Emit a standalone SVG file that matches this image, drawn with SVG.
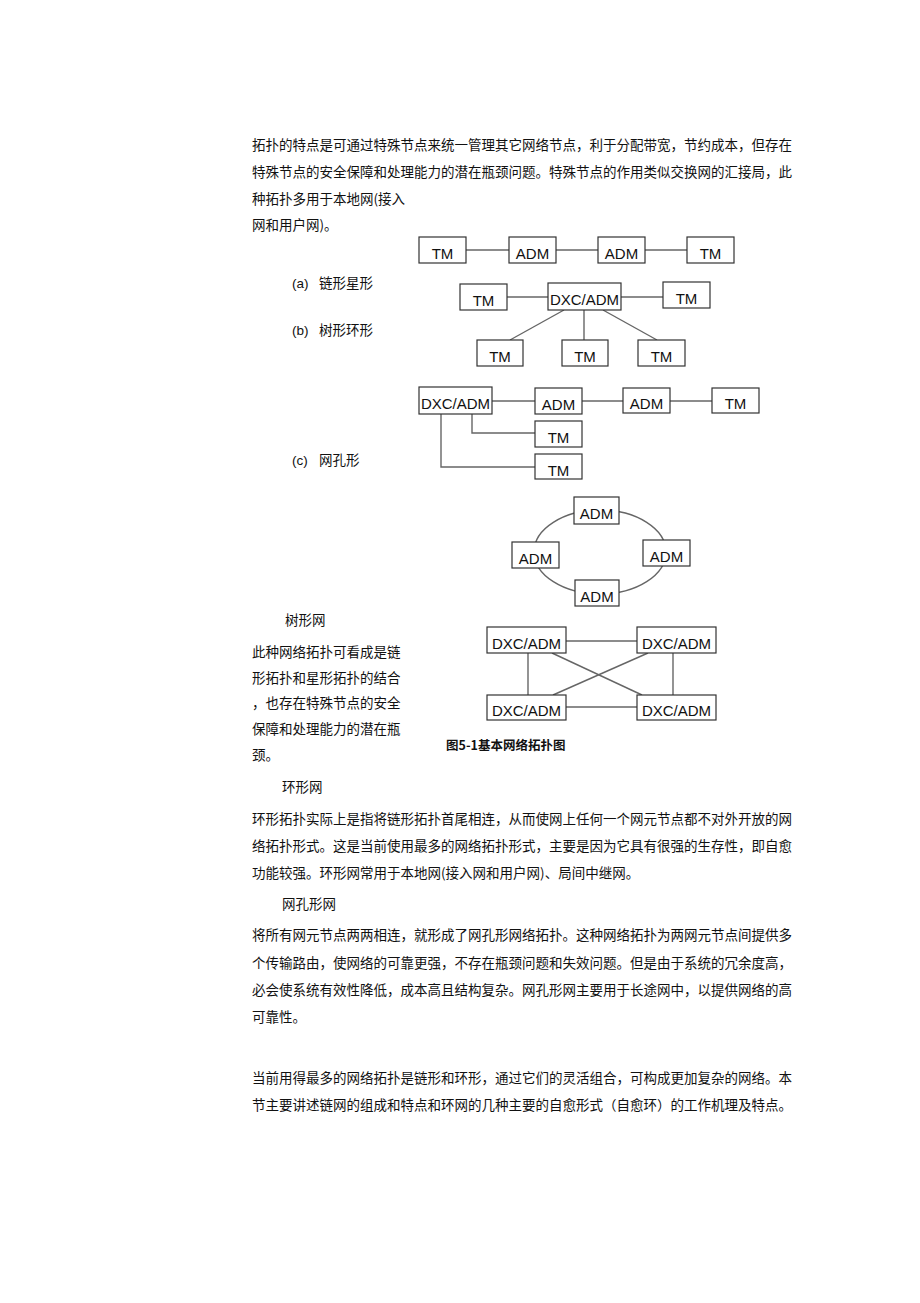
<svg xmlns="http://www.w3.org/2000/svg" width="920" height="1303" viewBox="0 0 920 1303">
<style>
.t{font-family:"Noto Sans CJK SC","Liberation Sans",sans-serif;font-size:13.5px;fill:#111}
.lab{font-family:"Liberation Sans","Noto Sans CJK SC",sans-serif;font-size:13.5px;fill:#111}
.cap{font-family:"Noto Sans CJK SC","Liberation Sans",sans-serif;font-size:12.5px;font-weight:bold;fill:#111}
.box rect{fill:#fff;stroke:#333;stroke-width:1.2}
.box text{font-family:"Liberation Sans",Arial,sans-serif;font-size:15px;fill:#111;text-anchor:middle}
.conn line,.conn polyline,.conn ellipse{stroke:#666;stroke-width:1.4;fill:none}
</style>
<rect width="920" height="1303" fill="#fff"/>

<g id="text-top">
<text class="t" x="252" y="150">拓扑的特点是可通过特殊节点来统一管理其它网络节点，利于分配带宽，节约成本，但存在</text>
<text class="t" x="252" y="177">特殊节点的安全保障和处理能力的潜在瓶颈问题。特殊节点的作用类似交换网的汇接局，此</text>
<text class="t" x="252" y="204">种拓扑多用于本地网(接入</text>
<text class="t" x="252" y="230">网和用户网)。</text>
</g>

<g id="labels">
<text class="lab" x="292" y="288">(a)</text><text class="t" x="319" y="288">链形星形</text>
<text class="lab" x="292" y="335">(b)</text><text class="t" x="319" y="335">树形环形</text>
<text class="lab" x="292" y="465">(c)</text><text class="t" x="319" y="465">网孔形</text>
</g>

<g id="connectors" class="conn">
<line x1="466" y1="250" x2="509" y2="250"/>
<line x1="556" y1="250" x2="598" y2="250"/>
<line x1="645" y1="250" x2="687" y2="250"/>
<line x1="507" y1="297" x2="548" y2="297"/>
<line x1="621" y1="297" x2="663" y2="297"/>
<line x1="564" y1="310" x2="510" y2="340"/>
<line x1="584" y1="310" x2="584" y2="340"/>
<line x1="603" y1="310" x2="657" y2="340"/>
<line x1="492" y1="401" x2="535" y2="401"/>
<line x1="582" y1="401" x2="623" y2="401"/>
<line x1="670" y1="401" x2="712" y2="401"/>
<polyline points="472,414 472,433 535,433"/>
<polyline points="441,414 441,467 535,467"/>
<ellipse cx="600" cy="552" rx="66" ry="42"/>
<line x1="566" y1="641" x2="637" y2="641"/>
<line x1="566" y1="707" x2="637" y2="707"/>
<line x1="528" y1="653" x2="528" y2="695"/>
<line x1="673" y1="653" x2="673" y2="695"/>
<line x1="552" y1="653" x2="642" y2="695"/>
<line x1="553" y1="695" x2="648" y2="653"/>
</g>

<g id="chain-tm1" class="box"><rect x="419" y="237" width="47" height="26"/><text x="442.5" y="258.5">TM</text></g>
<g id="chain-adm1" class="box"><rect x="509" y="237" width="47" height="26"/><text x="532.5" y="258.5">ADM</text></g>
<g id="chain-adm2" class="box"><rect x="598" y="237" width="47" height="26"/><text x="621.5" y="258.5">ADM</text></g>
<g id="chain-tm2" class="box"><rect x="687" y="237" width="47" height="26"/><text x="710.5" y="258.5">TM</text></g>

<g id="star-tm-left" class="box"><rect x="460" y="284" width="47" height="26"/><text x="483.5" y="305.5">TM</text></g>
<g id="star-dxc" class="box"><rect x="548" y="283" width="73" height="27"/><text x="584.5" y="305">DXC/ADM</text></g>
<g id="star-tm-right" class="box"><rect x="663" y="282" width="47" height="26"/><text x="686.5" y="303.5">TM</text></g>
<g id="star-tm-b1" class="box"><rect x="477" y="340" width="46" height="26"/><text x="500" y="361.5">TM</text></g>
<g id="star-tm-b2" class="box"><rect x="562" y="340" width="46" height="26"/><text x="585" y="361.5">TM</text></g>
<g id="star-tm-b3" class="box"><rect x="638" y="340" width="47" height="26"/><text x="661.5" y="361.5">TM</text></g>

<g id="tree-dxc" class="box"><rect x="419" y="387" width="73" height="27"/><text x="455.5" y="409">DXC/ADM</text></g>
<g id="tree-adm1" class="box"><rect x="535" y="388" width="47" height="26"/><text x="558.5" y="409.5">ADM</text></g>
<g id="tree-adm2" class="box"><rect x="623" y="388" width="47" height="25"/><text x="646.5" y="409">ADM</text></g>
<g id="tree-tm1" class="box"><rect x="712" y="388" width="47" height="25"/><text x="735.5" y="409">TM</text></g>
<g id="tree-tm2" class="box"><rect x="535" y="421" width="47" height="26"/><text x="558.5" y="442.5">TM</text></g>
<g id="tree-tm3" class="box"><rect x="535" y="454" width="47" height="25"/><text x="558.5" y="475.5">TM</text></g>

<g id="ring-top" class="box"><rect x="574" y="497" width="45" height="27"/><text x="596.5" y="519">ADM</text></g>
<g id="ring-left" class="box"><rect x="512" y="542" width="47" height="26"/><text x="535.5" y="563.5">ADM</text></g>
<g id="ring-right" class="box"><rect x="643" y="540" width="47" height="26"/><text x="666.5" y="561.5">ADM</text></g>
<g id="ring-bottom" class="box"><rect x="575" y="580" width="44" height="26"/><text x="597" y="601.5">ADM</text></g>

<g id="mesh-tl" class="box"><rect x="487" y="627" width="79" height="26"/><text x="526.5" y="648.5">DXC/ADM</text></g>
<g id="mesh-tr" class="box"><rect x="637" y="627" width="79" height="26"/><text x="676.5" y="648.5">DXC/ADM</text></g>
<g id="mesh-bl" class="box"><rect x="487" y="695" width="79" height="25"/><text x="526.5" y="716">DXC/ADM</text></g>
<g id="mesh-br" class="box"><rect x="637" y="695" width="79" height="25"/><text x="676.5" y="716">DXC/ADM</text></g>

<g id="caption"><text class="cap" x="446" y="750">图5-1基本网络拓扑图</text></g>

<g id="text-tree">
<text class="t" x="285" y="625">树形网</text>
<text class="t" x="252" y="657">此种网络拓扑可看成是链</text>
<text class="t" x="252" y="683">形拓扑和星形拓扑的结合</text>
<text class="t" x="252" y="708">，也存在特殊节点的安全</text>
<text class="t" x="252" y="734">保障和处理能力的潜在瓶</text>
<text class="t" x="252" y="760">颈。</text>
</g>

<g id="text-ring">
<text class="t" x="282" y="792">环形网</text>
<text class="t" x="252" y="824">环形拓扑实际上是指将链形拓扑首尾相连，从而使网上任何一个网元节点都不对外开放的网</text>
<text class="t" x="252" y="851">络拓扑形式。这是当前使用最多的网络拓扑形式，主要是因为它具有很强的生存性，即自愈</text>
<text class="t" x="252" y="878">功能较强。环形网常用于本地网(接入网和用户网)、局间中继网。</text>
</g>

<g id="text-mesh">
<text class="t" x="282" y="909">网孔形网</text>
<text class="t" x="252" y="940">将所有网元节点两两相连，就形成了网孔形网络拓扑。这种网络拓扑为两网元节点间提供多</text>
<text class="t" x="252" y="968">个传输路由，使网络的可靠更强，不存在瓶颈问题和失效问题。但是由于系统的冗余度高，</text>
<text class="t" x="252" y="995">必会使系统有效性降低，成本高且结构复杂。网孔形网主要用于长途网中，以提供网络的高</text>
<text class="t" x="252" y="1022">可靠性。</text>
</g>

<g id="text-bottom">
<text class="t" x="252" y="1083">当前用得最多的网络拓扑是链形和环形，通过它们的灵活组合，可构成更加复杂的网络。本</text>
<text class="t" x="252" y="1110">节主要讲述链网的组成和特点和环网的几种主要的自愈形式（自愈环）的工作机理及特点。</text>
</g>
</svg>
